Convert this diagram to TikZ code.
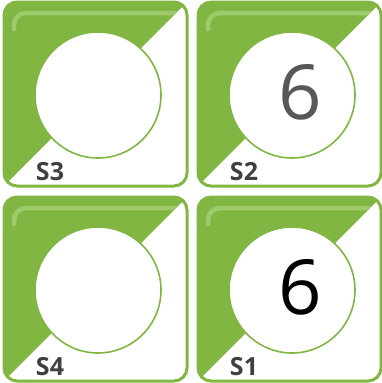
\documentclass[tikz,border=0pt]{standalone}
\usepackage{fontspec}
\setsansfont{Open Sans}
\usetikzlibrary{positioning}
\definecolor{tilegreen}{RGB}{128,182,65}
\definecolor{glossgreen}{RGB}{166,208,120}
\definecolor{labelgray}{RGB}{64,64,64}
\definecolor{numgray}{RGB}{88,88,88}
\tikzset{
  tileframe/.style={draw=tilegreen,line width=3pt,rounded corners=13pt},
  dial/.style={circle,draw=tilegreen,fill=white,line width=1.6pt,minimum size=126pt,inner sep=0pt},
  tilelabel/.style={font=\sffamily\bfseries\fontsize{25}{25}\selectfont,text=labelgray,inner sep=0pt},
  digit/.style={font=\sffamily\fontsize{76}{76}\selectfont,inner sep=0pt},
}

\begin{document}
\begin{tikzpicture}[x=1pt,y=-1pt]
 \useasboundingbox (0,0) rectangle (381,383);
 \foreach \ox/\oy/\name/\num/\col in {4/2/S3//numgray, 198/2/S2/6/numgray, 4/197/S4//black, 198/197/S1/6/black}{
  \begin{scope}[shift={(\ox,\oy)}]
   \fill[white,rounded corners=13pt] (0,0) rectangle (183,184);
   % green half with gloss
   \begin{scope}
    \clip[rounded corners=13pt] (0,0) rectangle (183,184);
    \fill[tilegreen] (0,0) -- (183,0) -- (0,184) -- cycle;
    \clip (0,0) -- (183,0) -- (0,184) -- cycle;
    \draw[glossgreen,line width=4.5pt,line cap=round,rounded corners=12pt,opacity=0.8]
      (10,27) -- (10,11) -- (182,11);
   \end{scope}
   \draw[tileframe] (0,0) rectangle (183,184);
   \node[dial] (dial\name) at (94,93) {};
   \node[digit,text=\col] (num\name) at (102,90) {\num};
   \node[tilelabel] (lab\name) at (46,170) {\name};
  \end{scope}}
\end{tikzpicture}
\end{document}
